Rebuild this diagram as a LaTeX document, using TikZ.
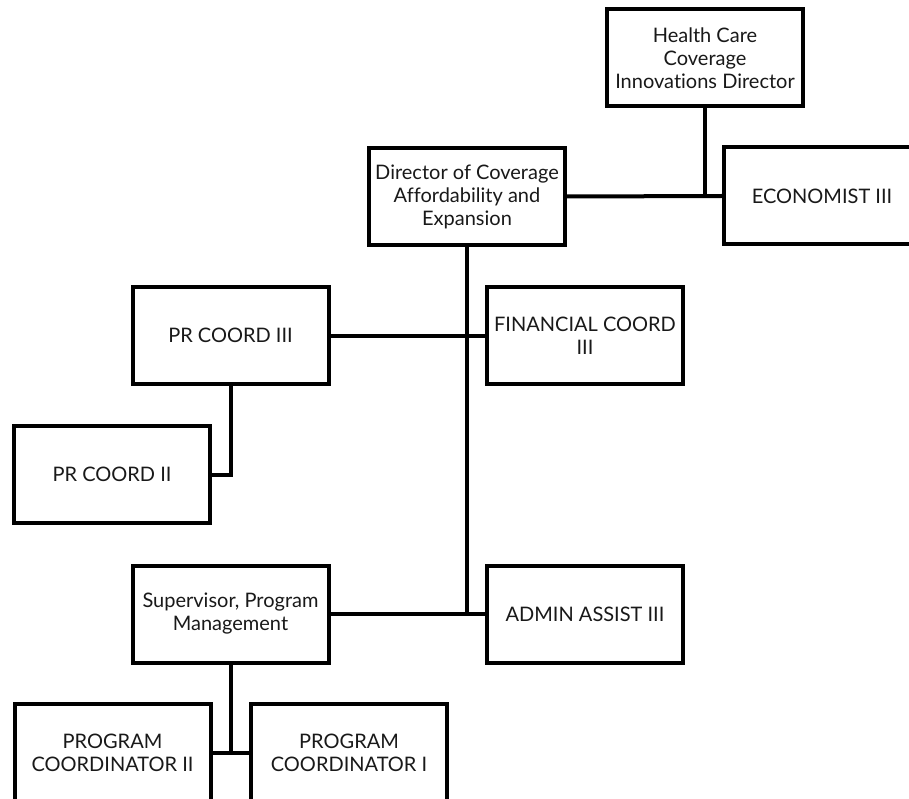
\documentclass[tikz,border=0pt]{standalone}
\usepackage{fontspec}
\setmainfont{Lato}[Ligatures={NoCommon}]
\begin{document}
\begin{tikzpicture}[x=1pt,y=-1pt,
  orgbox/.style={draw=black, line width=4pt, fill=white, minimum width=196pt, minimum height=97pt,
    inner sep=0pt, align=center, font=\fontsize{20}{23}\selectfont, text=black!90},
  link/.style={draw=black, line width=4pt}]
\useasboundingbox (0,0) rectangle (909,799);
\clip (0,0) rectangle (909,799);
\node[orgbox] (hcci) at (705,58) {Health Care\\Coverage\\Innovations Director};
\node[orgbox] (dcae) at (467,196.5) {Director of Coverage\\Affordability and\\Expansion};
\node[orgbox] (econ) at (822,196) {ECONOMIST III};
\node[orgbox] (prc3) at (230.5,335.5) {PR COORD III};
\node[orgbox] (fin) at (585,335.5) {FINANCIAL COORD\\III};
\node[orgbox] (prc2) at (112,474.5) {PR COORD II};
\node[orgbox] (sup) at (230.5,614) {Supervisor, Program\\Management};
\node[orgbox] (adm) at (585,614) {ADMIN ASSIST III};
\node[orgbox] (pc2) at (112.5,752.5) {PROGRAM\\COORDINATOR II};
\node[orgbox] (pc1) at (349,752.5) {PROGRAM\\COORDINATOR I};
\draw[link] (hcci.south) -- (hcci.south |- econ.west);
\draw[link] (dcae.east) -- (econ.west);
\draw[link] (dcae.south) -- (dcae.south |- adm.west);
\draw[link] (prc3.east) -- (fin.west);
\draw[link] (sup.east) -- (adm.west);
\draw[link] (prc3.south) |- (prc2.east);
\draw[link] (sup.south) -- (sup.south |- pc2.east);
\draw[link] (pc2.east) -- (pc1.west);
\end{tikzpicture}
\end{document}
